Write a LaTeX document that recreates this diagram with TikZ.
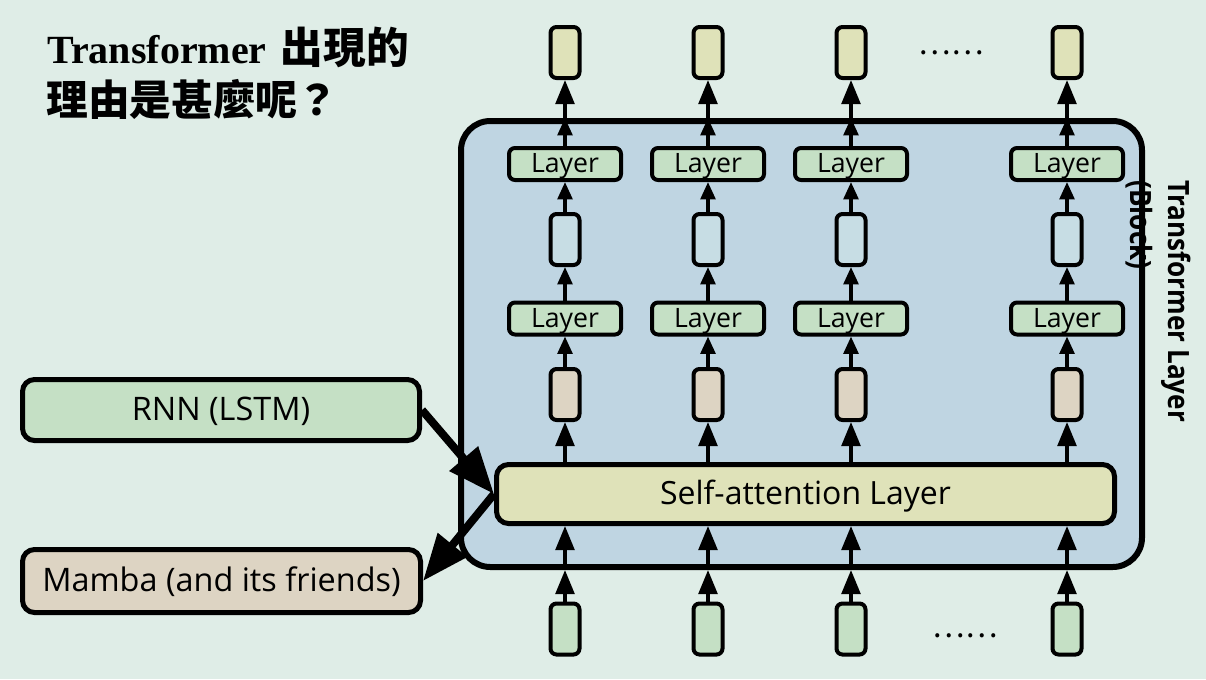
\documentclass[tikz,border=0pt]{standalone}
\usepackage{fontspec}
\usepackage{graphicx}
\setmainfont{Open Sans}
\newfontfamily\titlefont{Liberation Serif}
\newfontfamily\cjk{Noto Sans CJK TC}
\usetikzlibrary{arrows.meta}

\definecolor{bgmint}{RGB}{223,237,231}
\definecolor{blockblue}{RGB}{191,213,226}
\definecolor{cellblue}{RGB}{199,221,228}
\definecolor{layergreen}{RGB}{197,224,197}
\definecolor{cellgreen}{RGB}{197,224,197}
\definecolor{celltan}{RGB}{221,212,195}
\definecolor{cellyellow}{RGB}{223,226,185}

\tikzset{every picture/.style={line width=0.75pt}}
\tikzset{
  cell/.style={draw, line width=3pt, rounded corners=4.5pt, minimum width=21.75pt, minimum height=38.25pt, inner sep=0pt},
  layerbox/.style={draw, line width=3pt, rounded corners=4.5pt, fill=layergreen, minimum width=84pt, minimum height=24pt, inner sep=0pt, text height=13pt, text depth=0pt, font=\fontsize{20}{20}\selectfont},
  widebox/.style={draw, line width=3.75pt, rounded corners=9pt, inner sep=0pt, text height=16pt, text depth=0pt, font=\fontsize{24.3}{24.3}\selectfont},
  uparr/.style={line width=2.6pt, -{Triangle[length=13pt,width=11pt]}},
  bigup/.style={line width=2.6pt, -{Triangle[length=18pt,width=14pt]}},
  fatarr/.style={line width=6pt, -{Triangle[length=35pt,width=27pt]}},
}

\begin{document}
\begin{tikzpicture}[x=0.75pt,y=0.75pt,yscale=-1,xscale=1]
\useasboundingbox (0,0) rectangle (1206,679);
\fill[bgmint] (0,0) rectangle (1206,679);

% Block
\node (blk) [draw, line width=4.5pt, rounded corners=22pt, fill=blockblue, minimum width=510.75pt, minimum height=334.5pt] at (801.5,344) {};

% Title
\node (title1) [anchor=base west, inner sep=0pt, font=\titlefont\bfseries\fontsize{30}{30}\selectfont] at (47,63) {Transformer\hspace{3pt} {\cjk\bfseries\fontsize{32}{32}\selectfont 出現的}};
\node (title2) [anchor=base west, inner sep=0pt, font=\cjk\bfseries\fontsize{31.3}{31.3}\selectfont] at (46,115) {理由是甚麼呢？};

% Self-attention
\node (sa) [widebox, fill=cellyellow, minimum width=463.5pt, minimum height=44.25pt, font=\fontsize{24}{24}\selectfont] at (805.5,494) {Self-attention Layer};

% RNN and Mamba
\node (rnn) [widebox, fill=cellgreen, minimum width=297.75pt, minimum height=45.75pt] at (221,410) {RNN (LSTM)};
\node (mamba) [widebox, fill=celltan, minimum width=298.5pt, minimum height=47.25pt] at (221.5,581) {Mamba (and its friends)};

% Columns
\foreach \x [count=\i] in {565,708,851,1067}{
  \node (out\i) [cell, fill=cellyellow] at (\x,52.5) {};
  \node (la\i) [layerbox] at (\x,164) {Layer};
  \node (mid\i) [cell, fill=cellblue] at (\x,239.5) {};
  \node (lb\i) [layerbox] at (\x,318.5) {Layer};
  \node (tan\i) [cell, fill=celltan] at (\x,394.5) {};
  \node (in\i) [cell, fill=cellgreen] at (\x,629) {};
  \draw[bigup] (in\i.north) -- (in\i |- blk.south);
  \draw[bigup] (in\i |- blk.south) -- (in\i |- sa.south);
  \draw[bigup] (tan\i |- sa.north) -- (tan\i.south);
  \draw[uparr] (tan\i.north) -- (lb\i.south);
  \draw[uparr] (lb\i.north) -- (mid\i.south);
  \draw[uparr] (mid\i.north) -- (la\i.south);
  \draw[uparr] (la\i.north) -- (la\i |- blk.north);
  \draw[bigup] (la\i |- blk.north) -- (out\i.south);
}

% Dots
\node (dotstop) [inner sep=0pt, font=\cjk\fontsize{23}{23}\selectfont] at (951,53) {……};
\node (dotsbot) [inner sep=0pt, font=\cjk\fontsize{23}{23}\selectfont] at (965,636) {……};

% Big arrows
\draw[fatarr] (rnn.east) -- (sa.west);
\draw[fatarr] (sa.west) -- (mamba.east);

% Block label
\node (blklabel) [rotate=-90, anchor=north west, align=left, inner sep=0pt, font=\bfseries\fontsize{22}{28}\selectfont] at (1191,180) {\scalebox{0.89}[1]{Transformer Layer}\\\scalebox{0.89}[1]{(Block)}};

\end{tikzpicture}
\end{document}
